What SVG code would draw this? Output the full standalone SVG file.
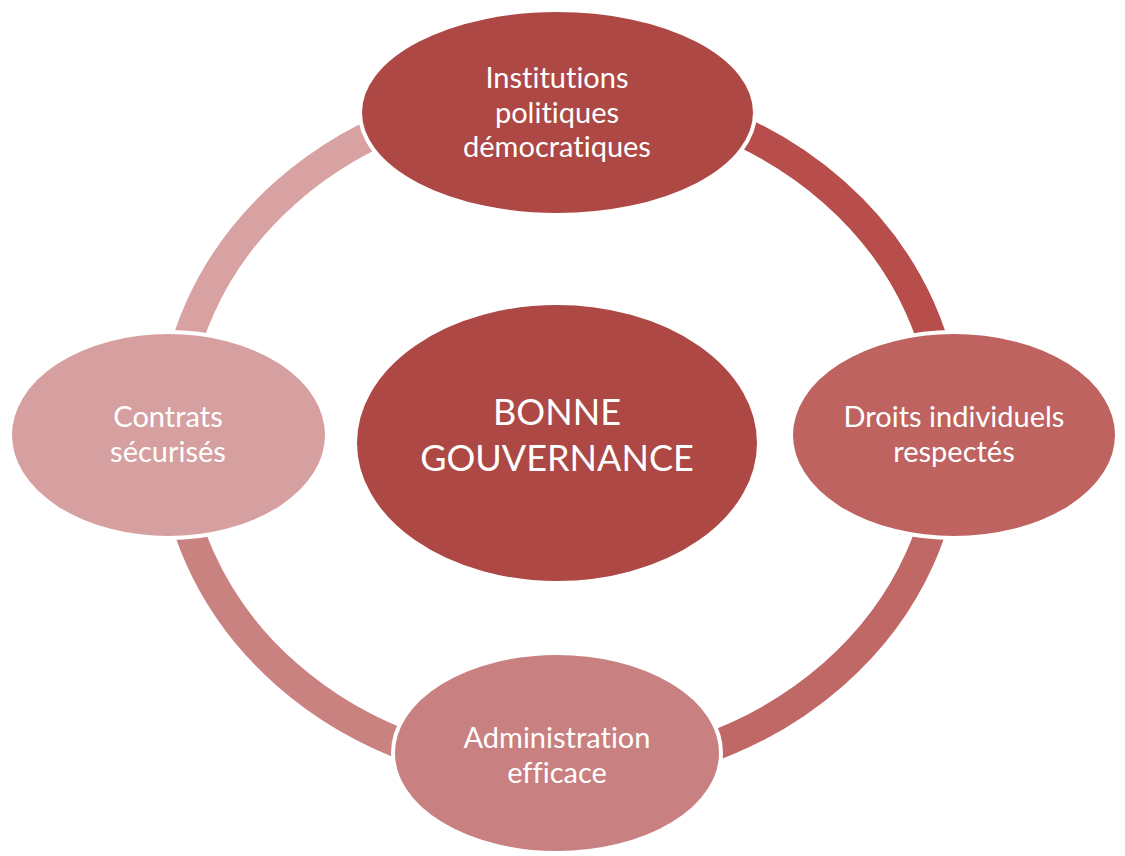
<svg xmlns="http://www.w3.org/2000/svg" width="1125" height="856" viewBox="0 0 1125 856">
  <style>
    .arc { fill: none; stroke-width: 30; }
    .node { stroke: #ffffff; stroke-width: 4; }
    .label { font-family: Lato, "Open Sans", "Liberation Sans", sans-serif; fill: #ffffff; text-anchor: middle; font-size: 29px; font-variant-ligatures: none; font-feature-settings: "liga" 0, "clig" 0; }
    .title { font-size: 36px; }
  </style>
  <rect width="1125" height="856" fill="#ffffff"/>

  <!-- ring segments, clockwise, each in the colour of the node it leaves -->
  <g id="connectors">
    <path class="arc" stroke="#B74E4B" d="M560,92 A387,341 0 0 1 947,433"/>
    <path class="arc" stroke="#C06865" d="M947,433 A387,341 0 0 1 560,774"/>
    <path class="arc" stroke="#CA8281" d="M560,774 A387,341 0 0 1 173,433"/>
    <path class="arc" stroke="#D8A2A2" d="M173,433 A387,341 0 0 1 560,92"/>
  </g>

  <g id="center">
    <ellipse class="node" cx="557" cy="443" rx="202" ry="140" fill="#AD4845"/>
    <text class="label title" x="557" y="425">BONNE</text>
    <text class="label title" x="557" y="471">GOUVERNANCE</text>
  </g>

  <g id="node-institutions">
    <ellipse class="node" cx="557.5" cy="112.5" rx="197.5" ry="102.5" fill="#AD4845"/>
    <text class="label" x="557" y="88">Institutions</text>
    <text class="label" x="557" y="123">politiques</text>
    <text class="label" x="557" y="157">démocratiques</text>
  </g>

  <g id="node-droits">
    <ellipse class="node" cx="954" cy="435" rx="163" ry="103" fill="#BE6360"/>
    <text class="label" x="954" y="427">Droits individuels</text>
    <text class="label" x="954" y="462">respectés</text>
  </g>

  <g id="node-administration">
    <ellipse class="node" cx="557" cy="753" rx="164" ry="100" fill="#C98080"/>
    <text class="label" x="557" y="748">Administration</text>
    <text class="label" x="557" y="783">efficace</text>
  </g>

  <g id="node-contrats">
    <ellipse class="node" cx="168.5" cy="435" rx="158.5" ry="103" fill="#D6A0A0"/>
    <text class="label" x="168" y="427">Contrats</text>
    <text class="label" x="168" y="462">sécurisés</text>
  </g>
</svg>
